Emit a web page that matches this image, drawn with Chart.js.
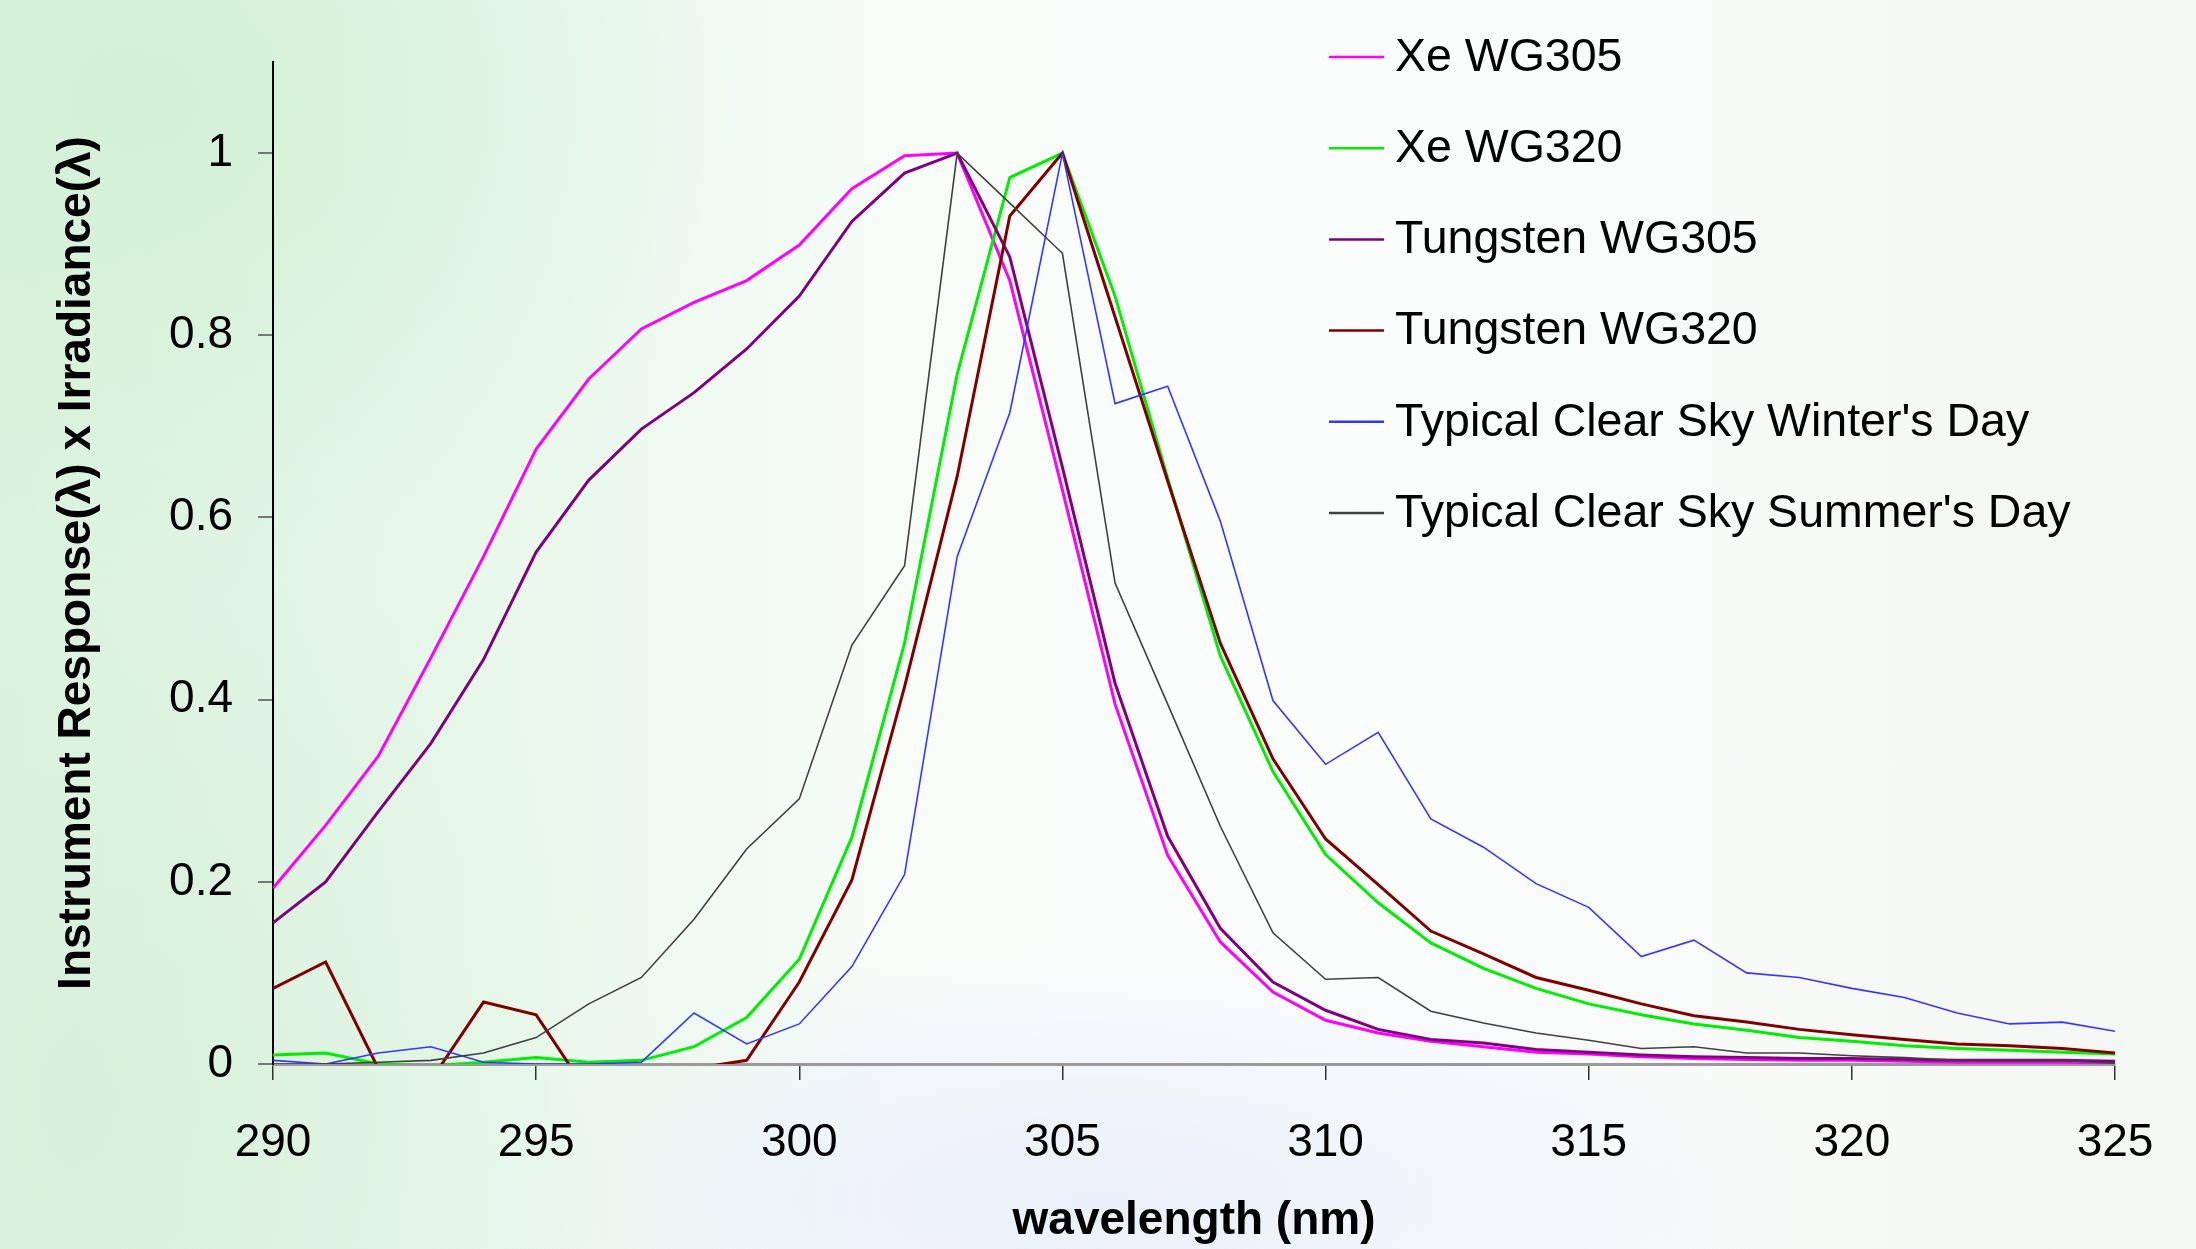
<!DOCTYPE html>
<html>
<head>
<meta charset="utf-8">
<script src="https://cdn.jsdelivr.net/npm/chart.js@4.4.1/dist/chart.umd.min.js"></script>
<style>
  html, body { margin: 0; padding: 0; }
  #wrap {
    width: 2196px; height: 1249px; position: relative;
    background:
      radial-gradient(ellipse 600px 500px at 150px 100px, rgba(210,240,214,0.9), rgba(210,240,214,0) 100%),
      radial-gradient(ellipse 500px 700px at 100px 1100px, rgba(215,240,218,0.8), rgba(215,240,218,0) 100%),
      radial-gradient(ellipse 700px 250px at 1100px 1200px, rgba(232,238,250,0.9), rgba(232,238,250,0) 100%),
      linear-gradient(to right, #dcf3df 0%, #e8f8ea 22%, #f7fcf9 42%, #fbfdfc 62%, #f3f6f3 100%);
  }
</style>
</head>
<body>
<div id="wrap"><canvas id="chSpectra" width="2196" height="1249"></canvas></div>
<script>
/* instrument response x irradiance, normalised */

// wavelength (nm)
var wavelengths = [290,291,292,293,294,295,296,297,298,299,300,301,302,303,304,305,306,307,
                   308,309,310,311,312,313,314,315,316,317,318,319,320,321,322,323,324,325];

var xeWG305 = [0.193,0.262,0.338,0.446,0.557,0.675,0.752,0.807,0.836,0.860,0.899,0.961,0.997,1.000,0.860,0.630,0.395,0.229,
               0.134,0.079,0.048,0.034,0.025,0.019,0.013,0.011,0.008,0.006,0.005,0.004,0.004,0.003,0.002,0.002,0.002,0.001];
var xeWG320 = [0.010,0.012,0.000,-0.002,0.002,0.007,0.002,0.004,0.019,0.051,0.115,0.249,0.462,0.757,0.973,1.000,0.843,0.643,
               0.448,0.321,0.230,0.177,0.133,0.105,0.083,0.066,0.054,0.044,0.037,0.029,0.025,0.020,0.017,0.015,0.013,0.011];
var tungWG305 = [0.155,0.200,0.277,0.352,0.444,0.562,0.641,0.697,0.737,0.785,0.843,0.925,0.978,1.000,0.886,0.655,0.418,0.250,
                 0.149,0.090,0.059,0.038,0.027,0.023,0.016,0.013,0.010,0.008,0.007,0.006,0.006,0.005,0.004,0.004,0.004,0.003];
var tungWG320 = [0.083,0.112,-0.005,-0.018,0.068,0.054,-0.033,-0.030,-0.005,0.004,0.090,0.202,0.414,0.645,0.931,1.000,0.820,0.640,
                 0.462,0.335,0.247,0.197,0.146,0.121,0.095,0.081,0.066,0.053,0.046,0.038,0.032,0.027,0.022,0.020,0.017,0.012];
var winterDay = [0.004,0.000,0.012,0.019,0.002,0.000,0.000,0.002,0.056,0.022,0.044,0.107,0.208,0.557,0.715,1.000,0.725,0.744,
                 0.596,0.399,0.329,0.364,0.269,0.238,0.198,0.172,0.118,0.136,0.100,0.095,0.083,0.073,0.056,0.044,0.046,0.036];
var summerDay = [0.000,0.000,0.002,0.004,0.012,0.029,0.066,0.095,0.159,0.236,0.291,0.460,0.547,1.000,0.945,0.890,0.528,0.395,
                 0.261,0.144,0.093,0.095,0.058,0.045,0.034,0.026,0.017,0.019,0.012,0.012,0.009,0.007,0.004,0.004,0.004,0.001];

var seriesNames = ['Xe WG305', 'Xe WG320', 'Tungsten WG305', 'Tungsten WG320',
                   "Typical Clear Sky Winter's Day", "Typical Clear Sky Summer's Day"];
var seriesData = [xeWG305, xeWG320, tungWG305, tungWG320, winterDay, summerDay];

var xTicks = [290, 295, 300, 305, 310, 315, 320, 325];
var yTicks = [0, 0.2, 0.4, 0.6, 0.8, 1];
var yTickLabels = ['0', '0.2', '0.4', '0.6', '0.8', '1'];

// chart colors
var colors = ['#ff00ff', '#00ee00', '#800080', '#800000', '#3535ff', '#404040'];
var widths = [3, 3, 3, 3, 1.6, 1.6];

var font = "'Liberation Sans', Arial, sans-serif";

function toPoints(arr) {
  return arr.map(function (v, i) { return {x: wavelengths[i], y: v}; });
}

var datasets = seriesData.map(function (arr, i) {
  return {
    label: seriesNames[i],
    data: toPoints(arr),
    borderColor: colors[i],
    backgroundColor: colors[i],
    borderWidth: widths[i],
    pointRadius: 0,
    tension: 0,
    clip: 0,
    order: seriesData.length - i   // later series on top, like the original
  };
});

// legend drawn over the plot, top right
var legendPlugin = {
  id: 'sideLegend',
  afterDraw: function (chart) {
    var ctx = chart.ctx;
    ctx.save();
    ctx.font = '46.5px ' + font;
    ctx.textBaseline = 'middle';
    ctx.textAlign = 'left';
    chart.data.datasets.forEach(function (ds, i) {
      var y = 57 + i * 91.2;
      ctx.strokeStyle = ds.borderColor;
      ctx.lineWidth = 2.5;
      ctx.beginPath();
      ctx.moveTo(1329, y);
      ctx.lineTo(1384, y);
      ctx.stroke();
      ctx.fillStyle = '#000';
      ctx.fillText(ds.label, 1395, y + 1);
    });
    ctx.restore();
  }
};

var chSpectra = document.getElementById('chSpectra');
if (chSpectra) {
  new Chart(chSpectra, {
    type: 'line',
    data: {datasets: datasets},
    plugins: [legendPlugin],
    options: {
      responsive: false,
      animation: false,
      devicePixelRatio: 1,
      layout: {padding: {top: 62, right: 81, left: 0, bottom: 0}},
      plugins: {legend: {display: false}, tooltip: {enabled: false}},
      scales: {
        x: {
          type: 'linear',
          min: xTicks[0],
          max: xTicks[xTicks.length - 1],
          afterBuildTicks: function (s) { s.ticks = xTicks.map(function (v) { return {value: v}; }); },
          afterFit: function (s) { s.height = 185; },
          grid: {drawOnChartArea: false, drawTicks: true, tickLength: 16, color: '#333', lineWidth: 1.5},
          border: {color: '#999', width: 3},
          ticks: {color: '#000', padding: 36, font: {family: font, size: 46}, maxRotation: 0},
          title: {display: true, text: 'wavelength (nm)', color: '#000',
                  font: {family: font, size: 46, weight: 'bold'}, padding: {top: 0, bottom: 0}}
        },
        y: {
          min: 0,
          max: 1.1,
          afterBuildTicks: function (s) { s.ticks = yTicks.map(function (v) { return {value: v}; }); },
          afterFit: function (s) { s.width = 273; },
          grid: {drawOnChartArea: false, drawTicks: true, tickLength: 15, color: '#777', lineWidth: 2},
          border: {color: '#000', width: 2},
          ticks: {
            color: '#000', padding: 25, font: {family: font, size: 46},
            callback: function (v, i) { return yTickLabels[i]; }
          },
          title: {display: true, text: 'Instrument Response(λ) x Irradiance(λ)', color: '#000',
                  font: {family: font, size: 46, weight: 'bold'}, padding: {top: 50, bottom: 0}}
        }
      }
    }
  });
}
</script>
</body>
</html>
